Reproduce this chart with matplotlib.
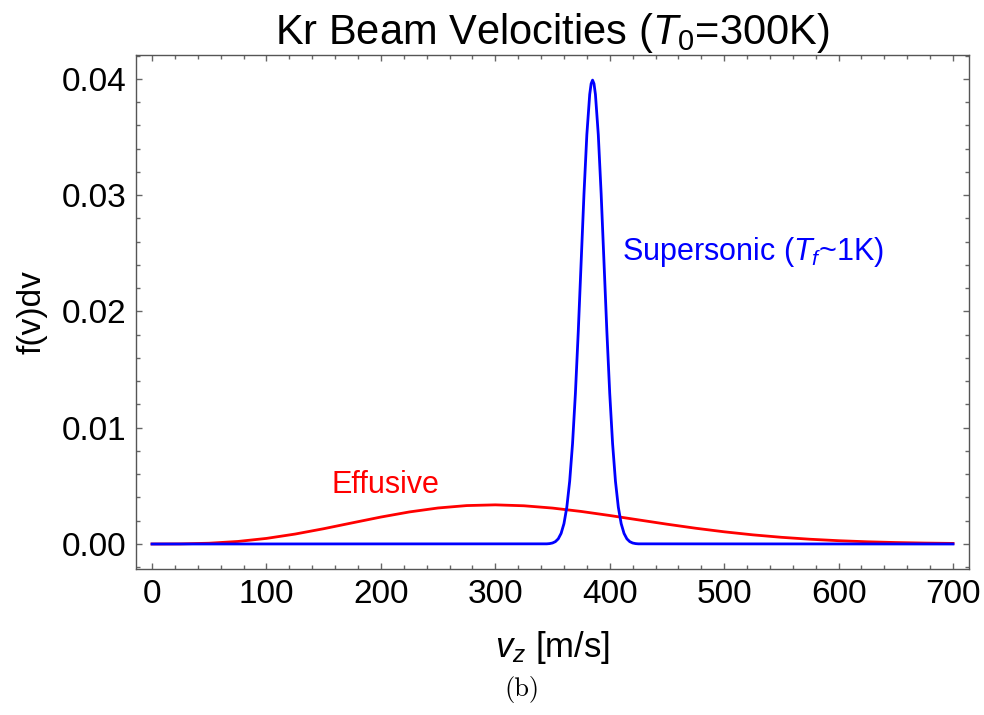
import matplotlib.pyplot as plt
from matplotlib.ticker import MultipleLocator

plt.rcParams['font.family'] = ['Liberation Sans', 'DejaVu Sans']
plt.rcParams['mathtext.fontset'] = 'custom'
plt.rcParams['mathtext.rm'] = 'Liberation Sans'
plt.rcParams['mathtext.it'] = 'Liberation Sans:italic'

# effusive beam
v_eff = [0, 25, 50, 75, 100, 125, 150, 175, 200, 225, 250, 275, 300, 325, 350,
         375, 400, 425, 450, 475, 500, 525, 550, 575, 600, 625, 650, 675, 700]
f_eff = [0.0, 0.0000088, 0.0000682, 0.000218, 0.000481, 0.000854, 0.001314,
         0.001819, 0.002318, 0.002759, 0.003098, 0.003305, 0.003367, 0.003288,
         0.003090, 0.002800, 0.002451, 0.002076, 0.001704, 0.001357, 0.001049,
         0.000788, 0.000576, 0.000410, 0.000284, 0.000191, 0.000126, 0.0000804,
         0.0000503]

# supersonic beam
v_sup = [0, 345, 347.5, 350, 352.5, 355, 357.5, 360, 362.5, 365, 367.5, 370,
         372.5, 375, 377.5, 380, 382.5, 383.75, 385, 386.25, 387.5, 390, 392.5,
         395, 397.5, 400, 402.5, 405, 407.5, 410, 412.5, 415, 417.5, 420, 422.5,
         425, 700]
f_sup = [0.0, 0.0000134, 0.0000353, 0.0000873, 0.000203, 0.000443, 0.00091,
         0.00175, 0.00317, 0.00540, 0.00863, 0.01295, 0.01827, 0.02420, 0.03012,
         0.03521, 0.03867, 0.03959, 0.03990, 0.03959, 0.03867, 0.03521, 0.03012,
         0.02420, 0.01827, 0.01295, 0.00863, 0.00540, 0.00317, 0.00175, 0.00091,
         0.000443, 0.000203, 0.0000873, 0.0000353, 0.0000134, 0.0]

fig = plt.figure(figsize=(9.84, 7.15), dpi=100)
ax = fig.add_axes([0.1382, 0.2042, 0.8466, 0.7189])

ax.plot(v_eff, f_eff, color='#ff0000', lw=2)
ax.plot(v_sup, f_sup, color='#0000ff', lw=2)

ax.set_xlim(-14, 714)
ax.set_ylim(-0.00215, 0.04206)
ax.xaxis.set_major_locator(MultipleLocator(100))
ax.xaxis.set_minor_locator(MultipleLocator(20))
ax.yaxis.set_major_locator(MultipleLocator(0.01))
ax.yaxis.set_minor_locator(MultipleLocator(0.002))
ax.yaxis.set_major_formatter(plt.FormatStrFormatter('%.2f'))

ax.tick_params(which='both', direction='in', top=True, right=True,
               color='#666666', labelsize=24, width=1)
ax.tick_params(which='major', length=4.5, pad=7)
ax.tick_params(which='minor', length=2.8)
for s in ax.spines.values():
    s.set_color('#555555')
    s.set_linewidth(1)

ax.set_title(r'Kr Beam Velocities ($\mathit{T}_0$=300K)', fontsize=30, pad=6)
ax.set_xlabel(r'$\mathit{v}_z$ [m/s]', fontsize=25, labelpad=14)
ax.set_ylabel('f(v)dv', fontsize=24, labelpad=10)

ax.text(204, 0.0051, 'Effusive', color='#ff0000', fontsize=22,
        ha='center', va='center')
ax.text(525, 0.0251, r'Supersonic ($\mathit{T}_f$~1K)', color='#0000ff',
        fontsize=22, ha='center', va='center')

fig.text(0.530, 0.035, '(b)', fontsize=19, family='cmr10',
         ha='center', va='center')

fig.savefig('out.png', dpi=100)
